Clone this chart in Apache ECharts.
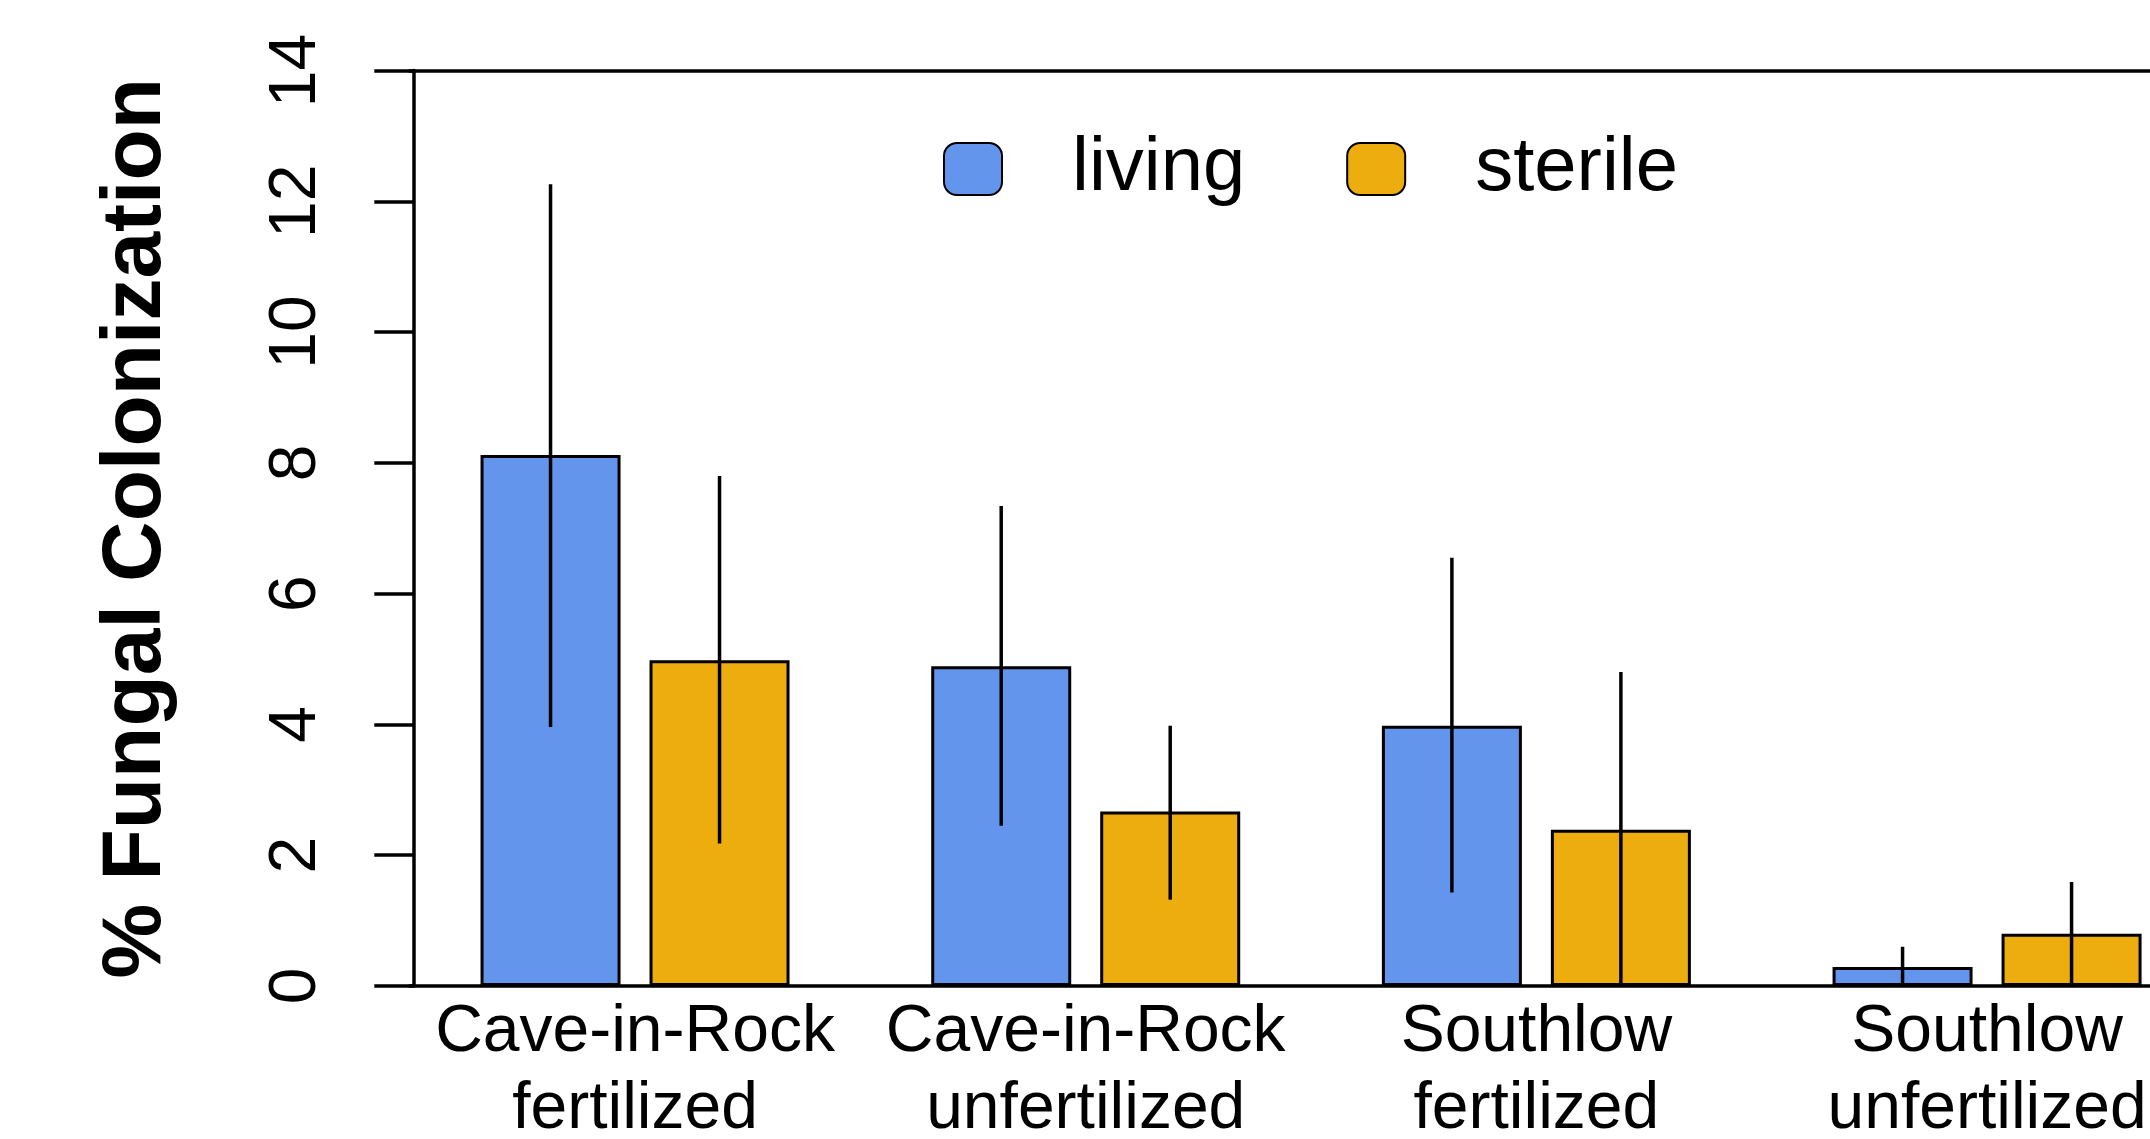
<!DOCTYPE html>
<html>
<head>
<meta charset="utf-8">
<title>% Fungal Colonization</title>
<script src="https://cdn.jsdelivr.net/npm/echarts@6/dist/echarts.min.js"></script>
<style>
  html, body { margin: 0; padding: 0; background: #ffffff; width: 2150px; height: 1139px; overflow: hidden; }
  /* the plot region runs past the right edge of the page: a clipping frame holds a wider canvas */
  #frame { position: absolute; left: 0; top: 0; width: 2150px; height: 1139px; overflow: hidden; }
  #chart { position: absolute; left: 0; top: 0; width: 2213px; height: 1139px; }
</style>
</head>
<body>
<div id="frame"><div id="chart"></div></div>
<script>
// Sites x fertilization treatments
const categories = [
  'Cave-in-Rock\nfertilized',
  'Cave-in-Rock\nunfertilized',
  'Southlow\nfertilized',
  'Southlow\nunfertilized'
];
const seriesNames = ['living', 'sterile'];

// Mean % colonization per treatment
const livingMean = [8.12, 4.89, 3.98, 0.29];
const sterileMean = [4.98, 2.67, 2.39, 0.80];

// Error bar ranges (lower, upper), floored at zero
const livingLower = [3.96, 2.45, 1.43, 0];
const livingUpper = [12.26, 7.34, 6.55, 0.60];
const sterileLower = [2.18, 1.32, 0, 0];
const sterileUpper = [7.80, 3.98, 4.80, 1.59];

// Y axis ticks
const yTicks = [0, 2, 4, 6, 8, 10, 12, 14];

const BAR_W = 140;
const BAR_GAP_PX = 29;
const HALF_STEP = (BAR_W + BAR_GAP_PX) / 2;
const LINE_W = 3.5;
const FONT = '"Liberation Sans", Arial, Helvetica, sans-serif';

function errorData(lower, upper) {
  return lower.map((lo, i) => [i, lo, upper[i]]);
}

function errorRenderer(offset) {
  return function (params, api) {
    const idx = api.value(0);
    const p0 = api.coord([idx, api.value(1)]);
    const p1 = api.coord([idx, api.value(2)]);
    const x = p0[0] + offset;
    return {
      type: 'line',
      shape: { x1: x, y1: p0[1], x2: x, y2: p1[1] },
      style: { stroke: '#000000', lineWidth: LINE_W }
    };
  };
}

const chart = echarts.init(document.getElementById('chart'), null, {
  renderer: 'canvas', width: 2213, height: 1139
});

chart.setOption({
  backgroundColor: '#ffffff',
  animation: false,
  textStyle: { fontFamily: FONT },
  grid: {
    left: 409.7,
    top: 70.5,
    width: 1802.7,
    height: 915.5,
    containLabel: false,
    outerBoundsMode: 'none'
  },
  legend: {
    data: seriesNames,
    left: 943,
    top: 123,
    padding: 0,
    itemWidth: 58,
    itemHeight: 52,
    itemGap: 101,
    icon: 'roundRect',
    textStyle: {
      fontFamily: FONT,
      fontSize: 76,
      lineHeight: 80,
      color: '#000000',
      padding: [12, 0, 0, 65]
    }
  },
  xAxis: [
    {
      type: 'category',
      data: categories,
      position: 'bottom',
      axisLine: { show: true, lineStyle: { color: '#000000', width: LINE_W } },
      axisTick: { show: false },
      axisLabel: {
        interval: 0,
        margin: 8,
        fontFamily: FONT,
        fontSize: 66,
        lineHeight: 77,
        color: '#000000'
      },
      splitLine: { show: false }
    },
    {
      type: 'category',
      data: categories,
      position: 'top',
      axisLine: { show: true, lineStyle: { color: '#000000', width: LINE_W } },
      axisTick: { show: false },
      axisLabel: { show: false },
      splitLine: { show: false }
    }
  ],
  yAxis: {
    type: 'value',
    min: yTicks[0],
    max: yTicks[yTicks.length - 1],
    interval: 2,
    offset: -3.6,
    name: '% Fungal Colonization',
    nameLocation: 'middle',
    nameRotate: 90,
    nameGap: 234,
    nameTextStyle: {
      fontFamily: FONT,
      fontSize: 84,
      fontWeight: 'bold',
      color: '#000000'
    },
    axisLine: { show: true, lineStyle: { color: '#000000', width: LINE_W } },
    axisTick: { show: true, length: 39, lineStyle: { color: '#000000', width: LINE_W } },
    axisLabel: {
      rotate: 90,
      margin: 84,
      fontFamily: FONT,
      fontSize: 66,
      color: '#000000'
    },
    splitLine: { show: false }
  },
  series: [
    {
      name: seriesNames[0],
      type: 'bar',
      data: livingMean,
      barWidth: BAR_W,
      barGap: (BAR_GAP_PX / BAR_W * 100).toFixed(2) + '%',
      itemStyle: { color: '#6495ED', borderColor: '#000000', borderWidth: 3 },
      z: 2
    },
    {
      name: seriesNames[1],
      type: 'bar',
      data: sterileMean,
      barWidth: BAR_W,
      itemStyle: { color: '#EEAD0E', borderColor: '#000000', borderWidth: 3 },
      z: 2
    },
    {
      name: 'living-error',
      type: 'custom',
      data: errorData(livingLower, livingUpper),
      renderItem: errorRenderer(-HALF_STEP),
      encode: { x: 0, y: [1, 2] },
      z: 5,
      silent: true
    },
    {
      name: 'sterile-error',
      type: 'custom',
      data: errorData(sterileLower, sterileUpper),
      renderItem: errorRenderer(HALF_STEP),
      encode: { x: 0, y: [1, 2] },
      z: 5,
      silent: true
    }
  ]
});
</script>
</body>
</html>
